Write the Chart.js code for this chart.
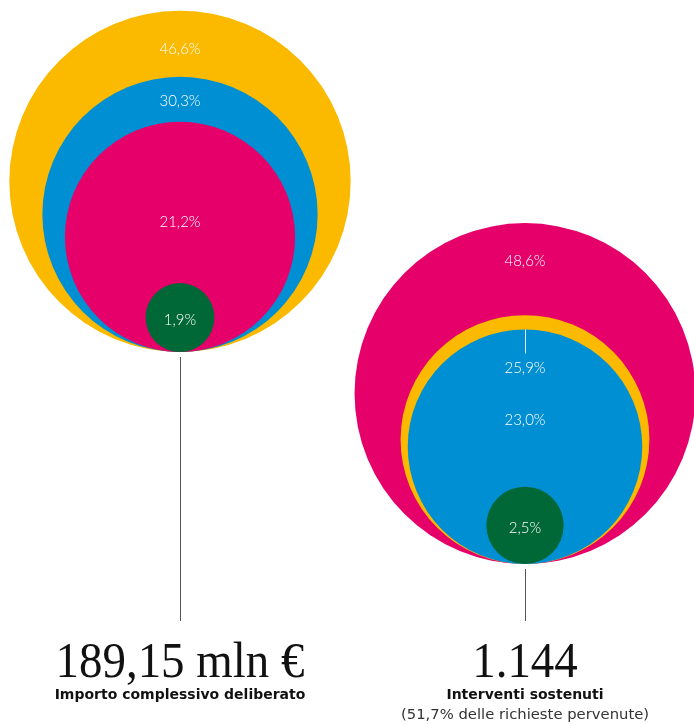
<!DOCTYPE html>
<html>
<head>
<meta charset="utf-8">
<script src="https://cdn.jsdelivr.net/npm/chart.js@4"></script>
<style>
  html, body { margin: 0; padding: 0; background: #fff; }
  #bubbleCanvas { display: block; }
</style>
</head>
<body>
<canvas id="bubbleCanvas" width="694" height="724"></canvas>
<script>
// shares (%) per group, biggest circle first
const importoShares = [46.6, 30.3, 21.2, 1.9];
const interventiShares = [48.6, 25.9, 23.0, 2.5];
const importoLabels = ["46,6%", "30,3%", "21,2%", "1,9%"];
const interventiLabels = ["48,6%", "25,9%", "23,0%", "2,5%"];
const totals = ["189,15 mln €", "1.144"];
const captions = ["Importo complessivo deliberato", "Interventi sostenuti"];
const notes = ["", "(51,7% delle richieste pervenute)"];

const YELLOW = "#FBB900", BLUE = "#008FD3", PINK = "#E5006A", GREEN = "#006837";

// layout of each group: centre x, bottom of circles, px per sqrt(%)
const layoutGroups = [
    { cx: 180, base: 352, k: 25.0, colors: [YELLOW, BLUE, PINK, GREEN], labelTop: [38, 24, 100, null], lineEnd: 621 },
    { cx: 525, base: 564, k: 24.45, colors: [PINK, YELLOW, BLUE, GREEN], labelTop: [38, 53, 91, null], lineEnd: 621 }
];

function toBubbles(values, g) {
    return values.map(v => {
        const r = g.k * Math.sqrt(v);
        return { x: g.cx, y: g.base - r, r: r };
    });
}

const labelPlugin = {
    id: "circleLabels",
    afterDatasetsDraw(chart) {
        const ctx = chart.ctx;
        const labelSets = [importoLabels, interventiLabels];
        chart.data.datasets.forEach((ds, di) => {
            const g = layoutGroups[di];
            const meta = chart.getDatasetMeta(di);
            ctx.save();
            // connector line under the circles
            const last = meta.data[meta.data.length - 1];
            const bottom = last.y + ds.data[ds.data.length - 1].r;
            ctx.strokeStyle = "#555";
            ctx.lineWidth = 1;
            ctx.beginPath();
            ctx.moveTo(Math.round(last.x) + 0.5, bottom + 5);
            ctx.lineTo(Math.round(last.x) + 0.5, g.lineEnd);
            ctx.stroke();

            ctx.font = "300 15px Lato";
            ctx.textAlign = "center";
            ctx.textBaseline = "middle";
            ctx.fillStyle = "#fff";
            meta.data.forEach((el, i) => {
                const r = ds.data[i].r;
                const top = el.y - r;
                const off = g.labelTop[i];
                const y = off === null ? el.y + 3 : top + off;
                ctx.fillText(labelSets[di][i], el.x, y);
            });
            // small white pointer to the thin ring in the second group
            if (di === 1) {
                const inner = meta.data[2];
                const t = inner.y - ds.data[2].r;
                ctx.strokeStyle = "rgba(255,255,255,0.9)";
                ctx.beginPath();
                ctx.moveTo(Math.round(inner.x) + 0.5, t);
                ctx.lineTo(Math.round(inner.x) + 0.5, t + 24);
                ctx.stroke();
            }

            // totals and captions
            ctx.fillStyle = "#111";
            ctx.textBaseline = "alphabetic";
            ctx.save();
            ctx.translate(g.cx, 677);
            ctx.scale(0.92, 1);
            ctx.font = "51px 'Liberation Serif'";
            ctx.fillText(totals[di], 0, 0);
            ctx.restore();
            ctx.font = "bold 14px 'DejaVu Sans'";
            ctx.fillText(captions[di], g.cx, 699);
            if (notes[di]) {
                ctx.fillStyle = "#333";
                ctx.font = "14.8px 'DejaVu Sans'";
                ctx.fillText(notes[di], g.cx, 719);
            }
            ctx.restore();
        });
    }
};

const bubbleCanvas = document.getElementById("bubbleCanvas");
const bubbleChart = new Chart(bubbleCanvas, {
    type: "bubble",
    data: {
        datasets: [
            {
                label: captions[0],
                data: toBubbles(importoShares, layoutGroups[0]),
                backgroundColor: layoutGroups[0].colors,
                borderWidth: 0,
                hoverRadius: 0
            },
            {
                label: captions[1],
                data: toBubbles(interventiShares, layoutGroups[1]),
                backgroundColor: layoutGroups[1].colors,
                borderWidth: 0,
                hoverRadius: 0
            }
        ]
    },
    options: {
        responsive: false,
        devicePixelRatio: 1,
        animation: false,
        layout: { padding: 0, autoPadding: false },
        clip: false,
        plugins: {
            legend: { display: false },
            tooltip: { enabled: false }
        },
        events: [],
        scales: {
            x: { type: "linear", min: 0, max: 694, display: false },
            y: { type: "linear", min: 0, max: 724, reverse: true, display: false }
        }
    },
    plugins: [labelPlugin]
});
</script>
</body>
</html>
